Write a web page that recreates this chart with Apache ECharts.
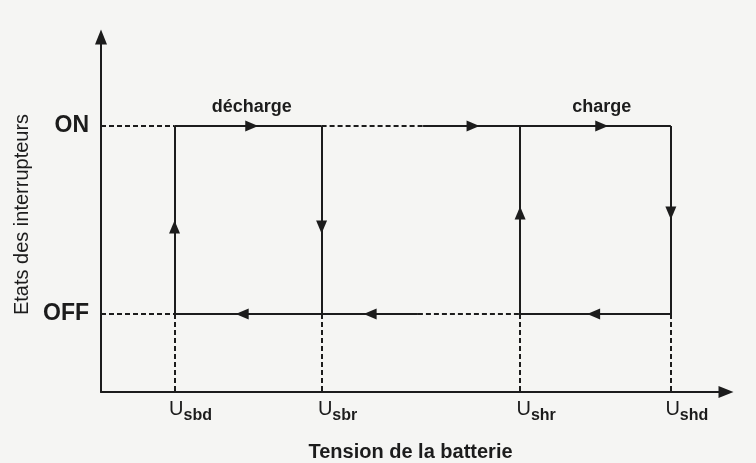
<!DOCTYPE html>
<html>
<head>
<meta charset="utf-8">
<script src="https://cdn.jsdelivr.net/npm/echarts@6/dist/echarts.min.js"></script>
<style>
  html, body { margin: 0; padding: 0; background: #f5f5f3; }
  #main { width: 756px; height: 463px; }
</style>
</head>
<body>
<div id="main"></div>
<script>
// seuils de tension (position sur l'axe, unités arbitraires)
var seuilNoms = ['sbd', 'sbr', 'shr', 'shd'];
var seuilValeurs = [1.0, 3.0, 5.7, 7.75];
// etats des interrupteurs
var etatNoms = ['OFF', 'ON'];
var etatValeurs = [0, 1];
// bornes des axes
var xMax = 8.5;
var yMin = -0.415, yMax = 1.473;
// zones pointillees au milieu des paliers
var onPointilleFin = 4.38;
var offPointilleDebut = 4.31;
// fleches
var flechesDroite = [2.05, 5.06, 6.81];   // sur ON
var flechesGauche = [1.92, 3.66, 6.70];   // sur OFF
var flechesMonteeY = [0.463, 0.537];      // Usbd, Ushr
var flechesDescenteY = [0.463, 0.537];    // Usbr, Ushd
var etiquettes = ['décharge', '', 'charge'];

var OFF = etatValeurs[0], ON = etatValeurs[1];
var sbd = seuilValeurs[0], sbr = seuilValeurs[1], shr = seuilValeurs[2], shd = seuilValeurs[3];

var traitsPleins = [
    [[sbd, OFF], [sbd, ON]],
    [[sbd, ON], [sbr, ON]],
    [[sbr, ON], [sbr, OFF]],
    [[onPointilleFin, ON], [shd, ON]],
    [[shd, ON], [shd, OFF]],
    [[shr, OFF], [shr, ON]],
    [[sbd, OFF], [offPointilleDebut, OFF]],
    [[shr, OFF], [shd, OFF]]
];
var traitsPointilles = [
    [[0, ON], [sbd, ON]],
    [[0, OFF], [sbd, OFF]],
    [[sbr, ON], [onPointilleFin, ON]],
    [[offPointilleDebut, OFF], [shr, OFF]]
];
seuilValeurs.forEach(function (x) {
    traitsPointilles.push([[x, OFF], [x, yMin]]);
});

var encre = '#1c1c1c';
var police = 'Liberation Sans, Arial, sans-serif';

function fleches(data, rot) {
    return {
        type: 'scatter',
        silent: true,
        symbol: 'triangle',
        symbolSize: [11, 13],
        symbolRotate: rot,
        itemStyle: { color: encre, opacity: 1 },
        data: data,
        z: 5
    };
}

var chart = echarts.init(document.getElementById('main'));
var option = {
    backgroundColor: '#f5f5f3',
    animation: false,
    grid: { left: 101, right: 30, top: 37, bottom: 71, outerBoundsMode: 'none' },
    xAxis: {
        type: 'value',
        min: 0,
        max: xMax,
        name: 'Tension de la batterie',
        nameLocation: 'middle',
        nameGap: 50,
        nameTextStyle: {
            color: encre, fontFamily: police, fontSize: 20, fontWeight: 'bold',
            padding: [0, 6, 0, 0]
        },
        axisLine: {
            show: true,
            onZero: false,
            symbol: ['none', 'triangle'],
            symbolSize: [12, 15],
            lineStyle: { color: encre, width: 2 }
        },
        axisTick: { show: false },
        splitLine: { show: false },
        axisLabel: {
            customValues: seuilValeurs,
            margin: 6,
            padding: [0, 0, 0, 32],
            formatter: function (v) {
                var i = seuilValeurs.indexOf(v);
                return '{u|U}{s|' + seuilNoms[i] + '}';
            },
            rich: {
                u: { fontFamily: police, fontSize: 20, color: encre, lineHeight: 22 },
                s: { fontFamily: police, fontSize: 16, fontWeight: 'bold', color: encre,
                     lineHeight: 18, padding: [14, 0, 0, 0] }
            }
        }
    },
    yAxis: {
        type: 'value',
        min: yMin,
        max: yMax,
        name: 'Etats des interrupteurs',
        nameLocation: 'middle',
        nameRotate: 90,
        nameGap: 68,
        nameTextStyle: { color: encre, fontFamily: police, fontSize: 20 },
        axisLine: {
            show: true,
            onZero: false,
            symbol: ['none', 'triangle'],
            symbolSize: [12, 15],
            lineStyle: { color: encre, width: 2 }
        },
        axisTick: { show: false },
        splitLine: { show: false },
        axisLabel: {
            customValues: etatValeurs,
            margin: 12,
            color: encre,
            fontFamily: police,
            fontSize: 23,
            fontWeight: 'bold',
            formatter: function (v) {
                return etatNoms[etatValeurs.indexOf(v)];
            }
        }
    },
    series: [
        {
            type: 'lines',
            coordinateSystem: 'cartesian2d',
            silent: true,
            lineStyle: { color: encre, width: 2, opacity: 1 },
            data: traitsPleins.map(function (c) { return { coords: c }; })
        },
        {
            type: 'lines',
            coordinateSystem: 'cartesian2d',
            silent: true,
            lineStyle: { color: encre, width: 2, type: [5, 3], opacity: 1 },
            data: traitsPointilles.map(function (c) { return { coords: c }; })
        },
        (function () {
            var s = fleches(flechesDroite.map(function (x, i) {
                return { value: [x, ON], label: { show: !!etiquettes[i], formatter: etiquettes[i] } };
            }), -90);
            s.label = {
                position: 'top', distance: 4, color: encre,
                fontFamily: police, fontSize: 18, fontWeight: 'bold'
            };
            return s;
        })(),
        fleches(flechesGauche.map(function (x) { return [x, OFF]; }), 90),
        fleches([[sbd, flechesMonteeY[0]], [shr, flechesMonteeY[1]]], 0),
        fleches([[sbr, flechesDescenteY[0]], [shd, flechesDescenteY[1]]], 180)
    ]
};
chart.setOption(option);
</script>
</body>
</html>
